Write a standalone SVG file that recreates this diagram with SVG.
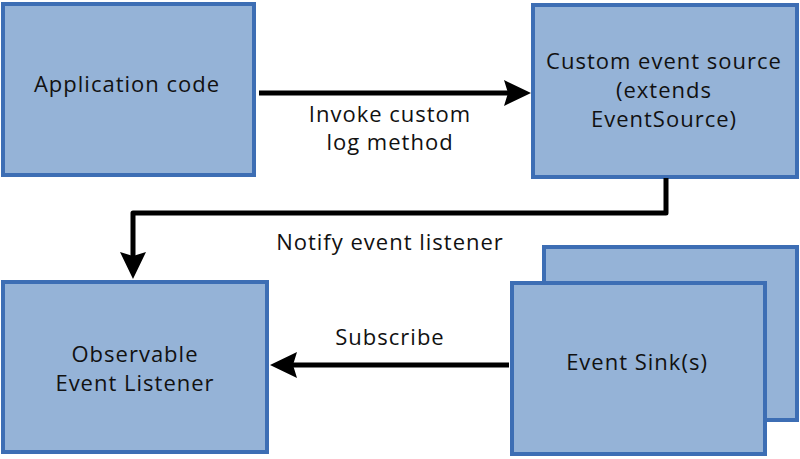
<svg xmlns="http://www.w3.org/2000/svg" width="800" height="459" viewBox="0 0 800 459">
<defs>
<style>
.box{fill:#95b3d7;stroke:#3d6eb4;stroke-width:4}
.t{font-family:"Open Sans","DejaVu Sans",sans-serif;font-size:22px;letter-spacing:1px;fill:#111;text-anchor:middle}
.c{fill:none;stroke:#000;stroke-width:5;stroke-linejoin:round}
.h{fill:#000}
</style>
</defs>
<g id="app"><rect class="box" x="3" y="4" width="251" height="171"/><text class="t" x="127" y="92">Application code</text></g>
<g id="source"><rect class="box" x="533" y="5" width="264" height="172"/><text class="t" x="664" y="69">Custom event source</text><text class="t" x="664" y="98">(extends</text><text class="t" x="664" y="127">EventSource)</text></g>
<g id="listener"><rect class="box" x="3" y="282" width="264" height="170"/><text class="t" x="135" y="362">Observable</text><text class="t" x="135" y="391">Event Listener</text></g>
<g id="sinks"><rect class="box" x="544" y="247" width="253" height="173"/><rect class="box" x="512" y="283" width="253" height="171"/><text class="t" x="637" y="370">Event Sink(s)</text></g>
<g id="connectors">
<path class="c" d="M259,93 L515,93"/>
<path class="h" d="M504,80 L531,93 L504,106 L508,93 Z"/>
<path class="c" d="M666,178 L666,213 L133,213 L133,262"/>
<path class="h" d="M120,252 L133,279 L146,252 L133,256 Z"/>
<path class="c" d="M509,365 L286,365"/>
<path class="h" d="M297,352 L270,365 L297,378 L293,365 Z"/>
<text class="t" x="390" y="122">Invoke custom</text><text class="t" x="390" y="150">log method</text>
<text class="t" x="390" y="250">Notify event listener</text>
<text class="t" x="390" y="345">Subscribe</text>
</g>
</svg>
